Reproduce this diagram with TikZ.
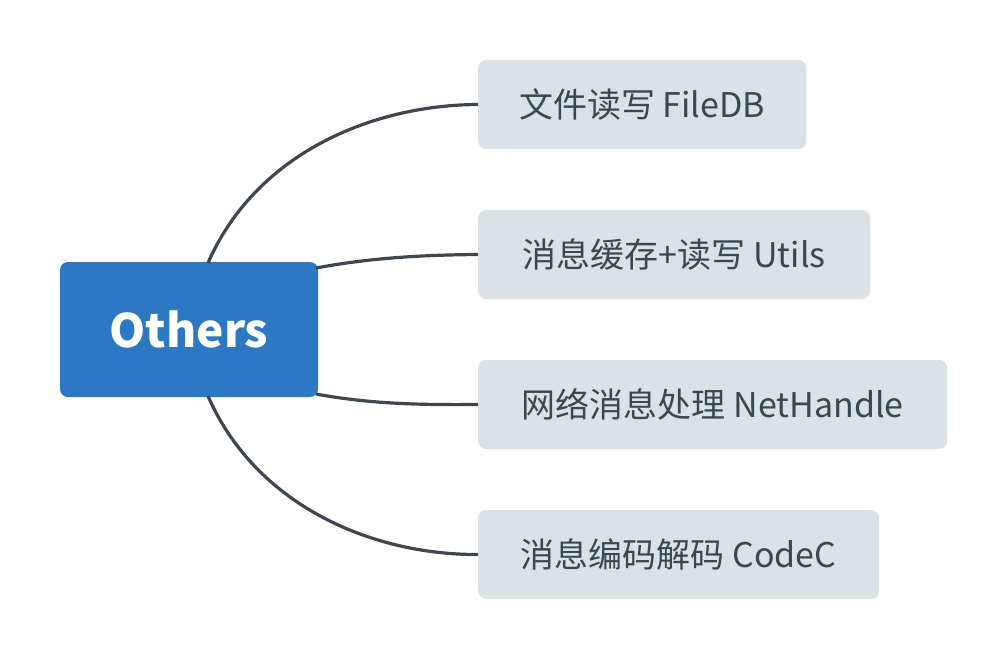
\documentclass[tikz,border=0pt]{standalone}
\usepackage{fontspec}
\setmainfont{Noto Sans CJK SC}
\definecolor{cblue}{HTML}{2C78C2}
\definecolor{cgray}{HTML}{DBE2E5}
\definecolor{cline}{HTML}{3F4650}
\definecolor{ctext}{HTML}{3C4650}
\begin{document}
\begin{tikzpicture}[x=1pt,y=-1pt,
  root/.style={fill=cblue,rounded corners=8pt,minimum width=258pt,minimum height=135pt,inner sep=0pt,
     text=white,font=\fontsize{46}{50}\selectfont\bfseries},
  leaf/.style={fill=cgray,rounded corners=8pt,minimum height=89pt,inner xsep=41pt,inner ysep=0pt,
     anchor=west,text=ctext,font=\fontsize{34}{38}\selectfont},
  conn/.style={draw=cline,line width=3.2pt}]
\useasboundingbox (0,0) rectangle (1008,660);
\node[root] (c) at (189,329.5) {Others};
\node[leaf,minimum width=328pt] (n1) at (478,104.5) {文件读写 FileDB};
\node[leaf,minimum width=392pt] (n2) at (478,254.5) {消息缓存+读写 Utils};
\node[leaf,minimum width=469pt] (n3) at (478,404.5) {网络消息处理 NetHandle};
\node[leaf,minimum width=401pt] (n4) at (478,554.5) {消息编码解码 CodeC};
\coordinate (s1) at (208,263);
\coordinate (s2) at (316,268);
\coordinate (s3) at (316,394);
\coordinate (s4) at (208,396);
\draw[conn] (s1) .. controls (255,155) and (370,105) .. (n1.west);
\draw[conn] (s2) .. controls (370,258) and (420,255) .. (n2.west);
\draw[conn] (s3) .. controls (370,404) and (420,405) .. (n3.west);
\draw[conn] (s4) .. controls (255,504) and (370,555) .. (n4.west);
\end{tikzpicture}
\end{document}
